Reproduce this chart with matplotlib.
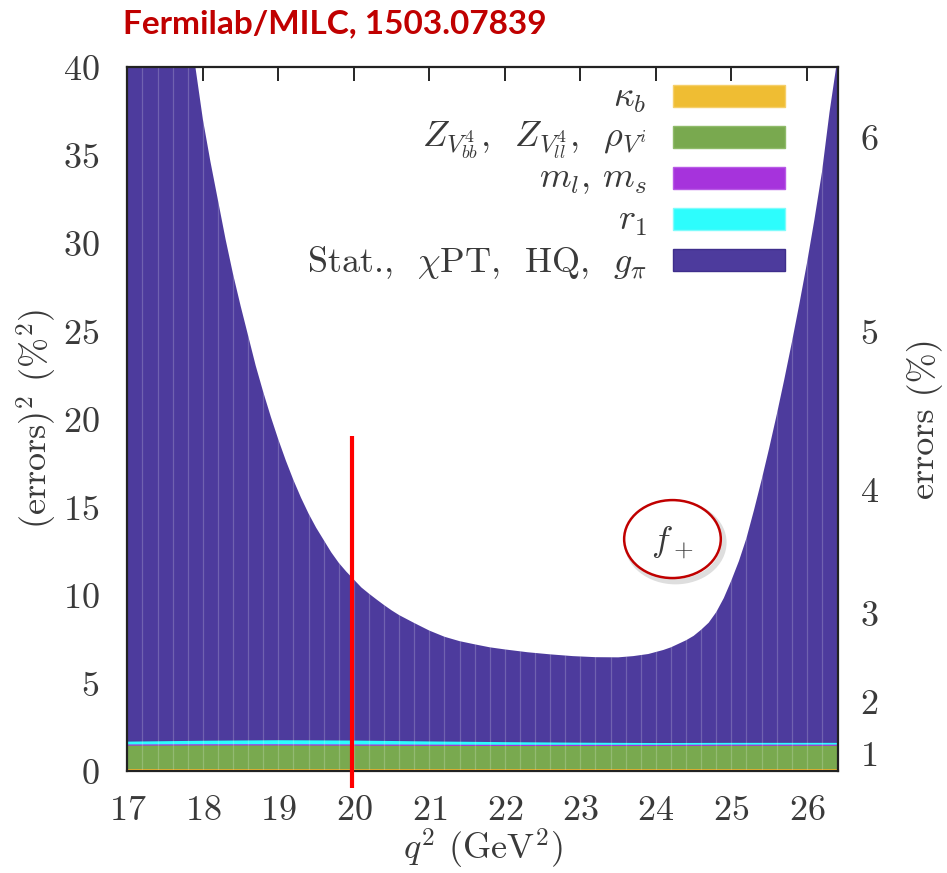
import matplotlib
matplotlib.use("Agg")
import matplotlib.pyplot as plt
from matplotlib.patches import Ellipse, Rectangle
import numpy as np

plt.rcParams['mathtext.fontset'] = 'cm'
plt.rcParams['font.family'] = ['DejaVu Sans']
plt.rcParams['axes.formatter.use_mathtext'] = True

# total squared error (%^2) along q^2, top of the stacked bands
q2 = [17.0, 17.3, 17.6, 17.9, 18.0, 18.1, 18.2, 18.3, 18.4, 18.5, 18.6, 18.7,
      18.8, 18.9, 19.0, 19.1, 19.2, 19.3, 19.4, 19.5, 19.6, 19.7, 19.8, 19.9,
      20.0, 20.1, 20.2, 20.3, 20.4, 20.5, 20.6, 20.8, 21.0, 21.2, 21.4, 21.6,
      21.8, 22.0, 22.3, 22.6, 22.9, 23.2, 23.5, 23.7, 23.9, 24.1, 24.2, 24.3,
      24.4, 24.5, 24.6, 24.7, 24.8, 24.9, 25.0, 25.1, 25.2, 25.3, 25.4, 25.5,
      25.6, 25.7, 25.8, 25.9, 26.0, 26.1, 26.2, 26.3, 26.41]
total = [72.0, 60.0, 49.0, 40.0, 37.0, 34.6, 32.4, 30.2, 28.2, 26.4, 24.7, 23.0,
         21.5, 20.1, 18.8, 17.6, 16.5, 15.5, 14.6, 13.8, 13.1, 12.4, 11.8, 11.3,
         10.85, 10.4, 10.05, 9.72, 9.4, 9.1, 8.83, 8.38, 7.95, 7.6, 7.35, 7.17,
         7.0, 6.88, 6.72, 6.6, 6.5, 6.44, 6.43, 6.5, 6.62, 6.85, 7.0, 7.2,
         7.4, 7.65, 8.0, 8.4, 9.0, 9.8, 10.8, 11.9, 13.2, 14.8, 16.5, 18.3,
         20.2, 22.2, 24.3, 26.5, 28.8, 31.3, 34.0, 37.4, 40.6]

# smaller contributions on a coarser grid
q2_small = [17.0, 18.0, 19.0, 20.0, 21.0, 22.0, 23.0, 24.0, 25.0, 26.0, 26.41]
kappa_b = [0.08, 0.08, 0.08, 0.08, 0.08, 0.08, 0.08, 0.08, 0.08, 0.08, 0.08]
z_rho = [1.36, 1.37, 1.37, 1.36, 1.35, 1.34, 1.34, 1.34, 1.35, 1.35, 1.35]
m_ls = [0.07, 0.07, 0.07, 0.07, 0.07, 0.07, 0.07, 0.07, 0.07, 0.07, 0.07]
r1 = [0.16, 0.20, 0.23, 0.22, 0.18, 0.15, 0.12, 0.10, 0.10, 0.10, 0.10]

labels = [r'$\kappa_b$',
          r'$Z_{V^4_{bb}}$,  $Z_{V^4_{ll}}$,  $\rho_{V^i}$',
          r'$m_l$, $m_s$',
          r'$r_1$',
          r'Stat.,  $\chi$PT,  HQ,  $g_\pi$']
colors = ['#efbd33', '#79a94f', '#a633dc', '#2dfdfd', '#4d3b9d']
edges = ['#f5cf6a', '#8fbb6a', '#b85ae6', '#7ffcfc', '#3e2e8c']

txt = '#3a3a3a'
fs = 26
cm = ['cmr10', 'DejaVu Sans']

fig = plt.figure(figsize=(9.47, 8.73), dpi=100)
ax = fig.add_axes([0.1345, 0.1174, 0.7502, 0.8064])
ax.set_axisbelow(True)

# stacked bands, each filled from zero
cum = np.cumsum([kappa_b, z_rho, m_ls, r1], axis=0)
top = ax.fill_between(q2, 0, total, color=colors[4], lw=0, zorder=1)
for i in (3, 2, 1, 0):
    ax.fill_between(q2_small, 0, cum[i], color=colors[i], lw=0, zorder=1.1)

# faint seams between fill segments
seams = ax.vlines(np.arange(17.2, 26.4, 0.2), 0, 40, color='white',
                  alpha=0.2, lw=0.9, zorder=1.3)
seams.set_clip_path(top.get_paths()[0], ax.transData)

ax.set_xlim(17, 26.41)
ax.set_ylim(0, 40)

xt = list(range(17, 27))
ax.set_xticks(xt)
ax.set_xticklabels([f'${v}$' for v in xt])
yt = list(range(0, 41, 5))
ax.set_yticks(yt)
ax.set_yticklabels([f'${v}$' for v in yt])
ax.tick_params(axis='x', direction='in', length=10, width=1.2, top=True,
               labelsize=fs, labelcolor=txt, pad=16)
ax.tick_params(axis='y', direction='in', length=10, width=1.2,
               labelsize=fs, labelcolor=txt, pad=20)
for s in ax.spines.values():
    s.set_linewidth(1.6)
    s.set_color('#222222')
    s.set_zorder(3)

ax.set_xlabel(r'$q^2$ (GeV$^2$)', family=cm, fontsize=fs, color=txt, labelpad=0)
ax.set_ylabel(r'(errors)$^2$ (%$^2$)', family=cm, fontsize=fs, color=txt,
              labelpad=3)

# right axis: errors in percent
ax2 = ax.twinx()
ax2.set_ylim(0, 40)
pct = [1, 2, 3, 4, 5, 6]
ax2.set_yticks([p * p for p in pct])
ax2.set_yticklabels([f'${p}$' for p in pct])
ax2.tick_params(axis='y', length=0, labelsize=fs, labelcolor=txt, pad=16)
ax2.set_ylabel('errors (%)', family=cm, fontsize=fs, color=txt, labelpad=20)
for s in ax2.spines.values():
    s.set_visible(False)

# key, right-aligned labels with colour swatches
rows = [0.958, 0.900, 0.842, 0.783, 0.725]
for lab, c, e, yy in zip(labels, colors, edges, rows):
    ax.text(0.731, yy - 0.004, lab, transform=ax.transAxes, ha='right',
            va='center', family=cm, fontsize=fs, color=txt, zorder=5)
    ax.add_patch(Rectangle((0.768, yy - 0.0155), 0.158, 0.031,
                           transform=ax.transAxes, facecolor=c, edgecolor=e,
                           lw=1, zorder=5))

# marker at q^2 = 20
ax.plot([19.98, 19.98], [-1.0, 19.0], color='#ff0000', lw=3, zorder=6,
        clip_on=False, solid_capstyle='butt')

# f_+ tag
ax.add_patch(Ellipse((24.26, 12.95), 1.28, 4.43, facecolor='none',
                     edgecolor='#c8c8c8', lw=4, alpha=0.6, zorder=4))
ax.add_patch(Ellipse((24.22, 13.15), 1.28, 4.43, facecolor='white',
                     edgecolor='#c00000', lw=1.8, zorder=4.5))
ax.text(24.22, 13.0, r'$f_+$', fontsize=fs, color=txt, ha='center',
        va='center', zorder=5)

fig.text(123 / 947, 1 - 24 / 873, 'Fermilab/MILC, 1503.07839', family='Lato',
         fontweight='bold', fontsize=24, color='#c00000', ha='left', va='center')

fig.savefig('out.png', dpi=100)
